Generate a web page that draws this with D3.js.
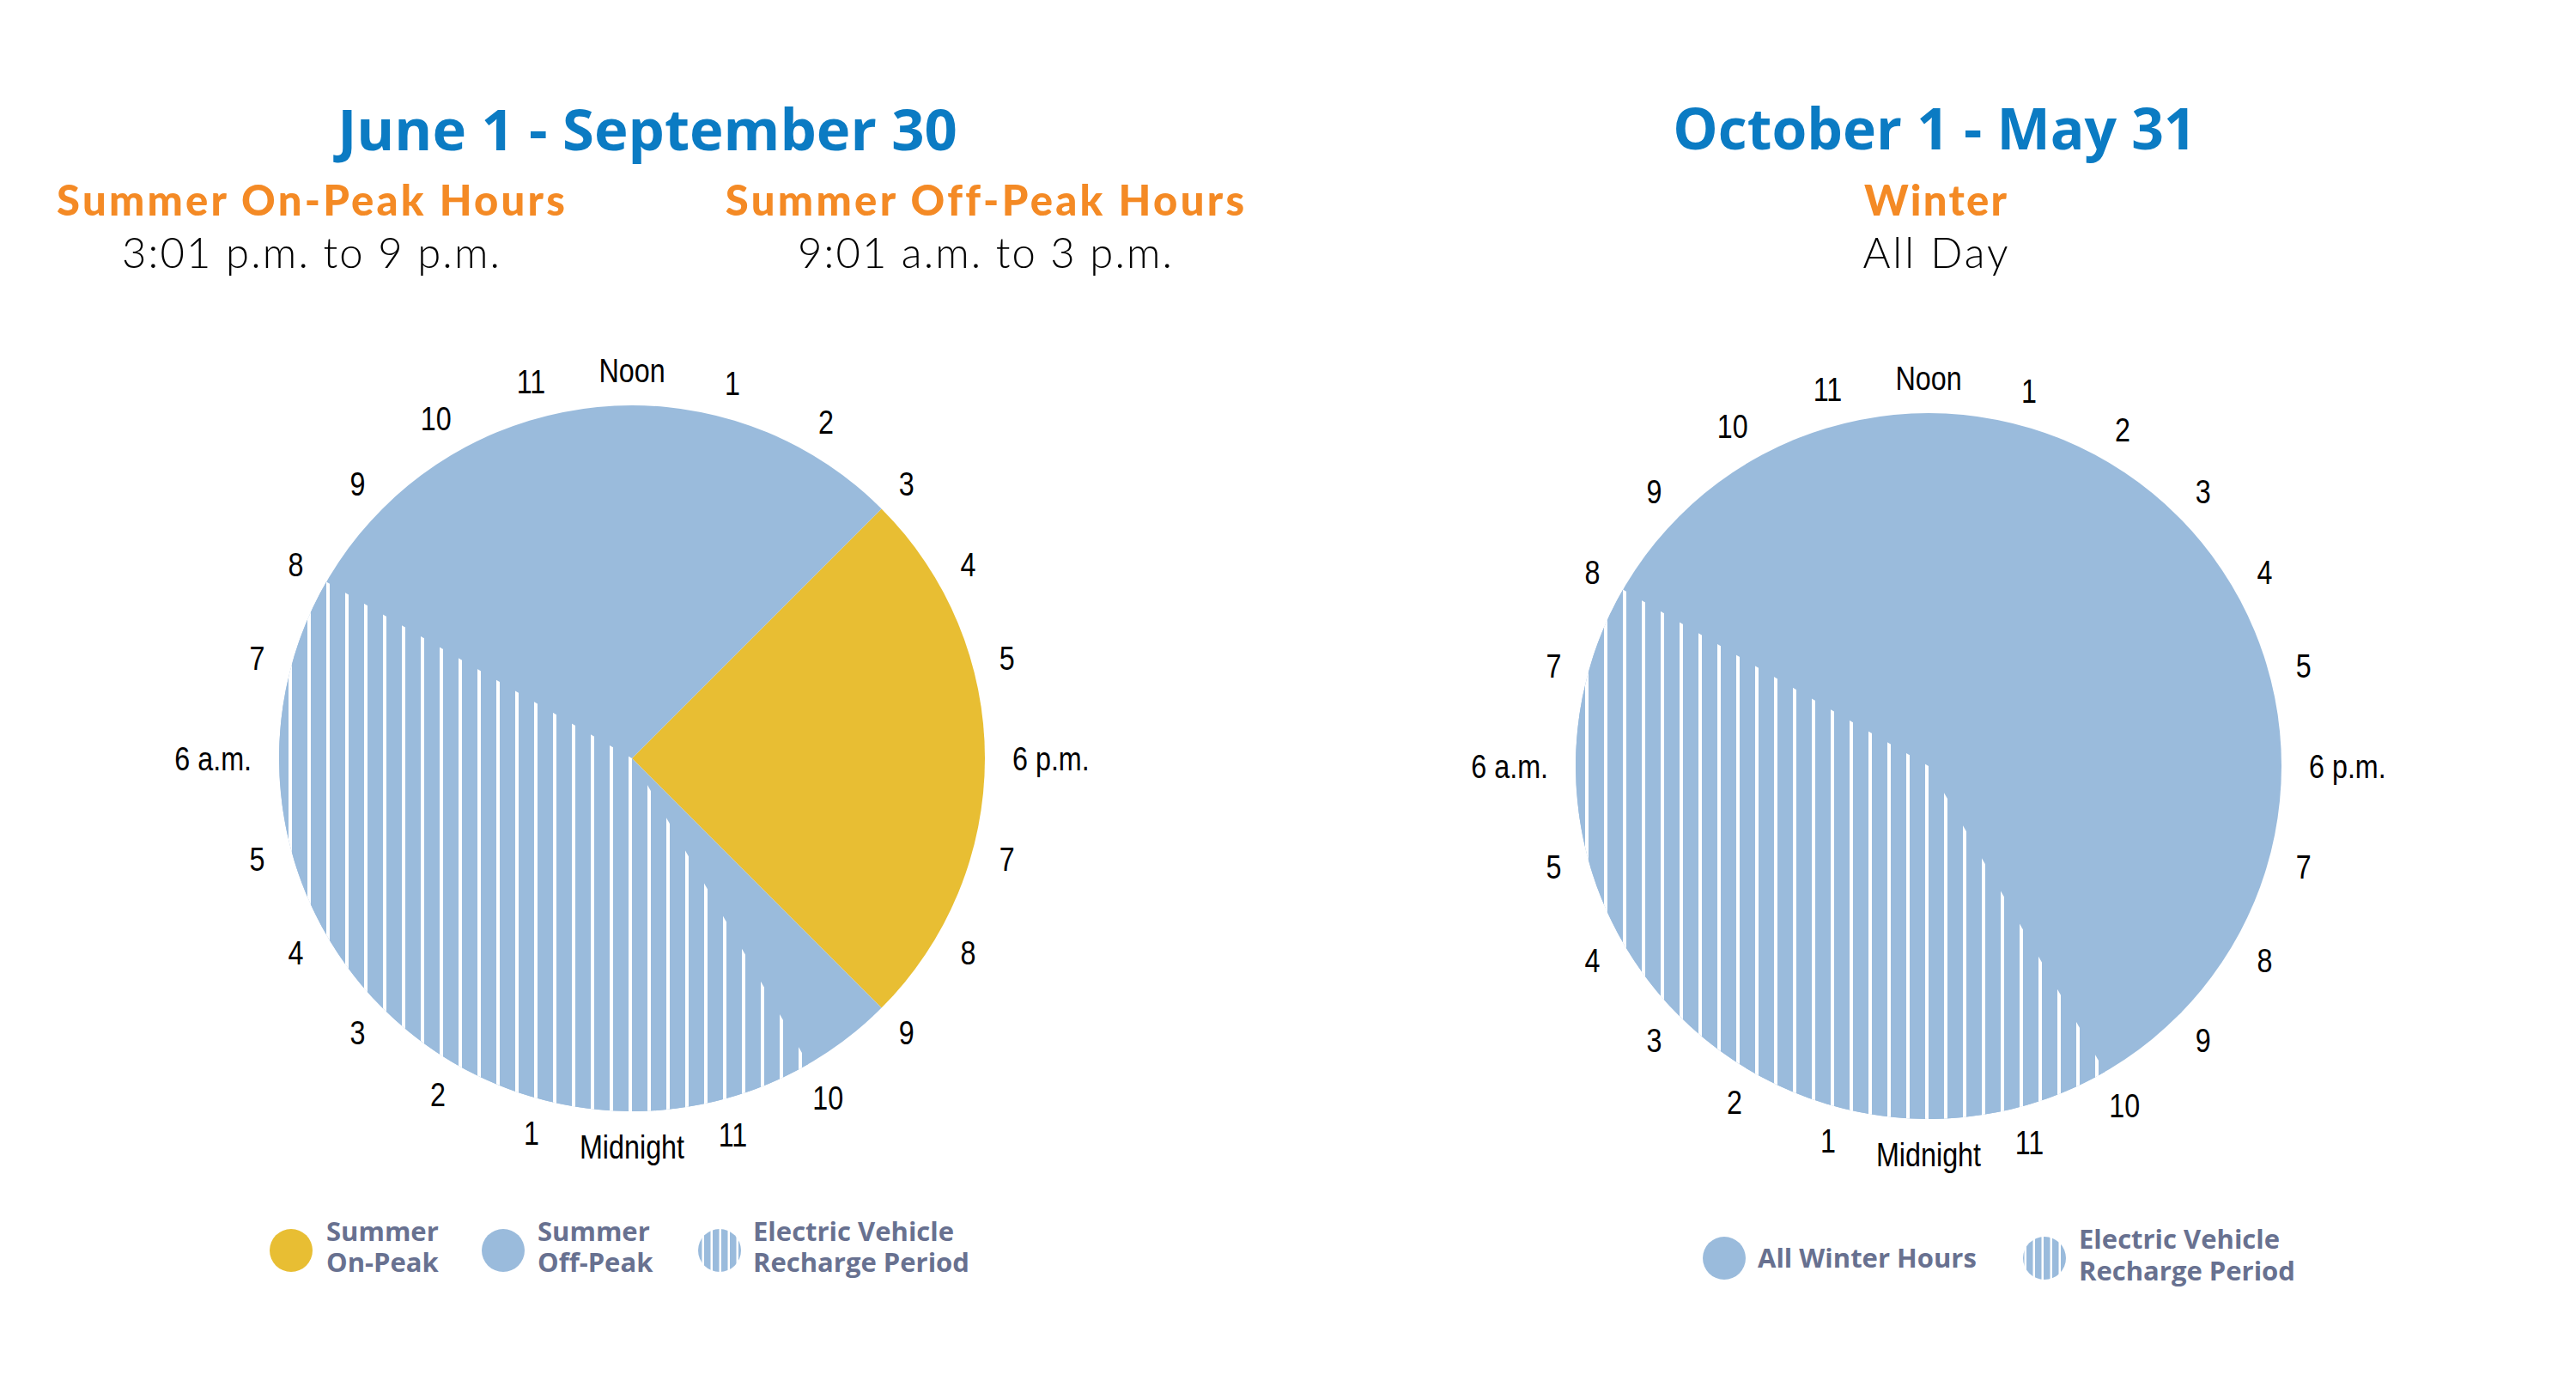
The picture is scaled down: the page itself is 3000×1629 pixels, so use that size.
<!DOCTYPE html>
<html><head><meta charset="utf-8">
<script src="https://cdn.jsdelivr.net/npm/d3@7"></script>
<style>body{margin:0;background:#fff}svg{display:block}</style>
</head><body>
<svg id="chart" width="3000" height="1629"></svg>
<script>
// ---------- DATA ----------
const hourLabels = ["Noon","1","2","3","4","5","6 p.m.","7","8","9","10","11",
                    "Midnight","1","2","3","4","5","6 a.m.","7","8","9","10","11"];
const hourTicks = [0,1,2,3,4,5,6,7,8,9,10,11,12,13,14,15,16,17,18,19,20,21,22,23]; // hours after noon

const panelTitles = ["June 1 - September 30", "October 1 - May 31"];
const summerHeadings = ["Summer On-Peak Hours", "Summer Off-Peak Hours"];
const summerTimes = ["3:01 p.m. to 9 p.m.", "9:01 a.m. to 3 p.m."];
const winterHeadings = ["Winter"];
const winterTimes = ["All Day"];

// slices: clock hours (24h)
const summerNames = ["Summer On-Peak", "Summer Off-Peak"];
const summerStart = [15, 21];
const summerEnd   = [21, 15];
const winterNames = ["All Winter Hours"];
const winterStart = [0];
const winterEnd   = [24];
const evName = "Electric Vehicle Recharge Period";
const evStart = 22;
const evEnd = 8;

const summerLegend = [["Summer","On-Peak"],["Summer","Off-Peak"],["Electric Vehicle","Recharge Period"]];
const winterLegend = [["All Winter Hours"],["Electric Vehicle","Recharge Period"]];

// ---------- STYLE ----------
const BLUE = "#9abbdc", YELLOW = "#e8be33", TITLE = "#0b7bc3", ORANGE = "#f48a25", LEG = "#687190";
const svg = d3.select("#chart");
const defs = svg.append("defs");
const pat = defs.append("pattern").attr("id","evStripes").attr("patternUnits","userSpaceOnUse")
  .attr("width",22).attr("height",22);
pat.append("rect").attr("width",22).attr("height",22).attr("fill",BLUE);
pat.append("rect").attr("x",18).attr("width",4).attr("height",22).attr("fill","#fff");
const pat2 = defs.append("pattern").attr("id","evStripesSmall").attr("patternUnits","userSpaceOnUse")
  .attr("width",10).attr("height",10);
pat2.append("rect").attr("width",10).attr("height",10).attr("fill",BLUE);
pat2.append("rect").attr("x",7.5).attr("width",2.5).attr("height",10).attr("fill","#fff");

const colorScale = d3.scaleOrdinal()
  .domain([...summerNames, ...winterNames, evName])
  .range([YELLOW, BLUE, BLUE, "url(#evStripes)"]);

const angle = d3.scaleLinear().domain([0,24]).range([0, 2*Math.PI]);
const sinceNoon = h => ((h - 12) % 24 + 24) % 24;
function sliceAngles(s, e){
  const a0 = sinceNoon(s);
  let len = e - s; if (len <= 0) len += 24;
  return {startAngle: angle(a0), endAngle: angle(a0 + len)};
}

const R = 411;
const arc = d3.arc().innerRadius(0).outerRadius(R);
const SX = 0.85;

function drawClock(cx, cy, names, starts, ends){
  const g = svg.append("g").attr("transform",`translate(${cx},${cy})`);
  names.forEach((n,i)=>{
    g.append("path").attr("d", arc(sliceAngles(starts[i], ends[i]))).attr("fill", colorScale(n));
  });
  g.append("path").attr("d", arc(sliceAngles(evStart, evEnd))).attr("fill", colorScale(evName));
  const LR = 452;
  hourTicks.forEach((h,i)=>{
    const a = angle(h);
    const lg = g.append("g");
    const t = lg.append("text").text(hourLabels[i])
      .attr("font-family","'Liberation Sans',Arial,sans-serif")
      .attr("font-size",38).attr("fill","#000").attr("text-anchor","middle")
      .attr("dy","0.36em").attr("transform",`scale(${SX},1)`);
    const w = t.node().getComputedTextLength() * SX;
    const r = LR + Math.max(0,(w - 18)/2) * Math.abs(Math.sin(a));
    lg.attr("transform",`translate(${r*Math.sin(a)},${-r*Math.cos(a)})`);
  });
}
drawClock(736, 883, summerNames, summerStart, summerEnd);
drawClock(2246, 892, winterNames, winterStart, winterEnd);

// ---------- TEXT ----------
const sans = "'Open Sans','Lato',sans-serif";
function txt(x,y,s,size,weight,fill,family){
  return svg.append("text").attr("x",x).attr("y",y).text(s).attr("text-anchor","middle")
    .attr("font-family",family||sans).attr("font-size",size).attr("font-weight",weight).attr("fill",fill);
}
function fitWidth(t, target){
  const s = t.text(); const len = t.node().getComputedTextLength();
  t.attr("letter-spacing", (target - len)/(s.length)).attr("dx", (target-len)/(2*s.length));
}
function block(x, heading, time, wh, wt){
  const h = txt(x,251,heading,49,900,ORANGE,"Lato,'Open Sans',sans-serif");
  fitWidth(h, wh);
  const t = txt(x,312,time,49,300,"#000","Lato,'Open Sans',sans-serif");
  fitWidth(t, wt);
}
txt(754,175,panelTitles[0],67,700,TITLE);
txt(2253,174,panelTitles[1],66,700,TITLE);
block(362, summerHeadings[0], summerTimes[0], 595, 442);
block(1147, summerHeadings[1], summerTimes[1], 606, 438);
block(2254, winterHeadings[0], winterTimes[0], 168, 172);

// ---------- LEGENDS ----------
function legend(items, fills, cxs, tx, cy, lineYs){
  items.forEach((lines,i)=>{
    svg.append("circle").attr("cx",cxs[i]).attr("cy",cy).attr("r",25).attr("fill",fills[i]);
    const t = svg.append("text").attr("font-family",sans).attr("font-size",31).attr("font-weight",700)
      .attr("fill",LEG);
    const ys = lines.length === 1 ? [cy + 11] : lineYs;
    lines.forEach((l,j)=> t.append("tspan").attr("x",tx[i]).attr("y",ys[j]).text(l));
  });
}
legend(summerLegend, [YELLOW, BLUE, "url(#evStripesSmall)"], [339,586,838], [380,626,877], 1456, [1445,1481]);
legend(winterLegend, [BLUE, "url(#evStripesSmall)"], [2008,2381], [2047,2421], 1465, [1454,1491]);
</script>
</body></html>
